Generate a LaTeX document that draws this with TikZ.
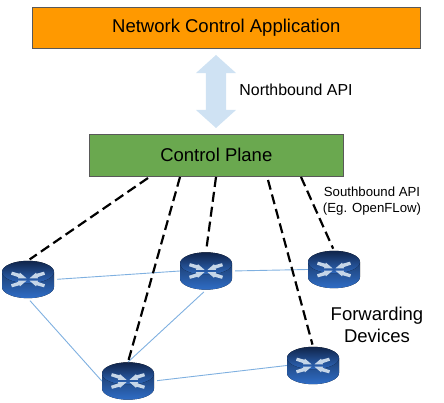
\documentclass[tikz,border=0pt]{standalone}
\usepackage{fontspec}
\setmainfont{Liberation Sans}
\usetikzlibrary{shapes.arrows, positioning}
\definecolor{apporange}{HTML}{FF9900}
\definecolor{planegreen}{HTML}{6AA84F}
\definecolor{boxborder}{HTML}{595959}
\definecolor{arrowblue}{HTML}{CFE2F3}
\definecolor{linkblue}{HTML}{7FB0E0}
\definecolor{crosspale}{HTML}{C6D6E8}
\definecolor{bodytop}{HTML}{1D3F73}
\definecolor{bodybottom}{HTML}{2F6DC6}
\definecolor{lidtop}{HTML}{10244A}
\definecolor{lidbottom}{HTML}{2E68BC}
\newcommand{\bigfont}{\fontsize{18.5}{21.5}\selectfont}
\tikzset{
	block/.style={draw=boxborder, line width=0.8pt, font=\bigfont},
	link/.style={draw=linkblue, line width=0.9pt, shorten <=3pt},
	api/.style={draw=black, line width=2.2pt, dash pattern=on 10pt off 5pt, shorten >=2pt},
	router/.style={minimum width=52pt, minimum height=37.5pt, inner sep=0pt, path picture={
		\begin{scope}[shift={(path picture bounding box.center)}]
			\fill[top color=bodytop, bottom color=bodybottom] (-26,7.5) -- (-26,-7.5) arc (180:360:26 and 11.2) -- (26,7.5) -- cycle;
			\fill[top color=lidtop, bottom color=lidbottom] (0,7.5) ellipse (26 and 11.2);
			\foreach \sx/\sy in {-1/1, 1/1, -1/-1, 1/-1} {
				\fill[crosspale, yshift=7.5] (\sx*1.5,\sy*1.2) -- (\sx*10,\sy*1.2) -- (\sx*9.6,\sy*2.3) -- (\sx*17,\sy*4.8) -- (\sx*16,\sy*7.8) -- (\sx*8.4,\sy*5.7) -- (\sx*8,\sy*6.8) -- cycle;
			}
		\end{scope}}}
}
\begin{document}
\begin{tikzpicture}[x=1pt, y=1pt]
	\useasboundingbox (0,0) rectangle (444,403);

	\node[block, fill=apporange, minimum width=388pt, minimum height=41pt] (app) at (226.3,375.5) {Network Control Application};
	\node[block, fill=planegreen, minimum width=254pt, minimum height=42pt] (ctrl) at (216.3,248) {Control Plane};
	\node[shape=double arrow, fill=arrowblue, rotate=90, inner xsep=0pt, inner ysep=10pt, minimum height=73pt, minimum width=40pt, double arrow head extend=10pt, double arrow tip angle=96] (nbarrow) at (216,311.5) {};
	\node[font=\fontsize{15.9}{18}\selectfont] (nblabel) at (296,313) {Northbound API};

	\node[router] (r1) at (28,123.5) {};
	\node[router] (r2) at (206,132) {};
	\node[router] (r3) at (334,133.5) {};
	\node[router] (r4) at (313,37.5) {};
	\node[router] (r5) at (128,22) {};

	\draw[link] (r1.east) -- (r2.west);
	\draw[link] (r2.east) -- (r3.west);
	\draw[link] (r1.south) -- (r5.west);
	\draw[link] (r2.south) -- (r5.north);
	\draw[link] (r5.east) -- (r4.west);

	\coordinate (s1) at (148,225);
	\coordinate (s2) at (180,226);
	\coordinate (s3) at (216,226);
	\coordinate (s4) at (268,223);
	\coordinate (s5) at (301,226);
	\draw[api] (s1) -- (r1.north);
	\draw[api] (s2) -- (r5.north);
	\draw[api] (s3) -- (r2.north);
	\draw[api] (s4) -- (r4.north);
	\draw[api] (s5) -- (r3.north);

	\node[align=center, font=\fontsize{13.2}{16}\selectfont] (sblabel) at (372,202) {Southbound API\\(Eg. OpenFLow)};
	\node[align=center, font=\bigfont] (fwdlabel) at (377,78) {Forwarding\\Devices};
\end{tikzpicture}
\end{document}
